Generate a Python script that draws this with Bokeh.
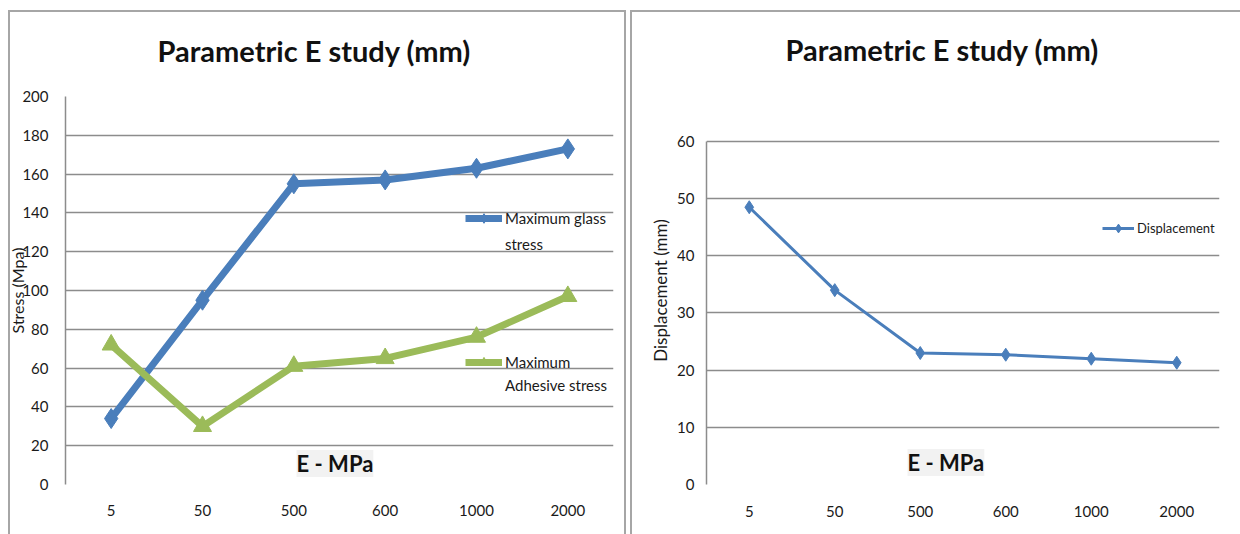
from bokeh.plotting import figure
from bokeh.layouts import row
from bokeh.models import (Label, Legend, LegendItem, Range1d, FactorRange,
                          FixedTicker, ColumnDataSource)
from bokeh.embed import file_html
from bokeh.resources import INLINE

# ---------------- data ----------------
categories = ["5", "50", "500", "600", "1000", "2000"]
glass_stress = [34, 95, 155, 157, 163, 173]
adhesive_stress = [72, 30, 61, 65, 76, 97]
displacement = [48.5, 34, 23, 22.7, 22, 21.3]

title_text = "Parametric E study (mm)"
x_title = "E - MPa"

FONT = "Lato"
GRID = "#8c8c8c"
BLUE = "#4a7ebb"
GREEN = "#9bbb59"
PANEL = "#a6a6a6"


def style(p, ymax, step, ystand, xstand, ylabel, ysize, ylstand, toff, tstand):
    ticks = list(range(0, ymax + 1, step))
    p.yaxis.ticker = FixedTicker(ticks=ticks)
    p.yaxis.bounds = (0, ymax)
    p.xgrid.grid_line_color = None
    p.ygrid.grid_line_color = GRID
    p.ygrid.grid_line_width = 1.5
    p.ygrid.ticker = FixedTicker(ticks=ticks)
    p.outline_line_color = None
    for ax in (p.xaxis, p.yaxis):
        ax.major_tick_line_color = None
        ax.minor_tick_line_color = None
        ax.major_tick_out = 0
        ax.major_tick_in = 0
        ax.major_label_text_font = FONT
        ax.major_label_text_font_size = "15px"
        ax.major_label_text_color = "#1a1a1a"
        ax.axis_label_text_font = FONT
        ax.axis_label_text_font_style = "normal"
        ax.axis_label_text_color = "#1a1a1a"
    p.xaxis.axis_line_color = None
    p.yaxis.axis_line_color = GRID
    p.yaxis.axis_line_width = 1.5
    p.xaxis.major_label_standoff = xstand
    p.yaxis.major_label_standoff = ystand
    p.yaxis.axis_label = ylabel
    p.yaxis.axis_label_text_font_size = ysize
    p.yaxis.axis_label_standoff = ylstand
    p.background_fill_color = "white"
    p.border_fill_alpha = 0
    p.title.text = title_text
    p.title.text_font = FONT
    p.title.text_font_size = "29px"
    p.title.text_font_style = "bold"
    p.title.text_color = "#111111"
    p.title.align = "left"
    p.title.vertical_align = "middle"
    p.title.offset = toff
    p.title.standoff = tstand


def make_legend(items, loc, sp, gw, gh, fsize):
    return Legend(items=items, location=loc, padding=0, margin=0, spacing=sp,
                  glyph_width=gw, glyph_height=gh, label_standoff=3, label_height=18,
                  label_text_font=FONT, label_text_font_size=fsize,
                  label_text_color="#1a1a1a",
                  border_line_color=None, background_fill_alpha=0)


src = ColumnDataSource(dict(cat=categories, glass=glass_stress, adh=adhesive_stress,
                            disp=displacement))

# ---------------- left panel ----------------
p1 = figure(width=626, height=534, x_range=FactorRange(factors=categories),
            y_range=Range1d(0, 200),
            output_backend="svg", toolbar_location=None,
            min_border_left=65, min_border_right=13, min_border_top=96, min_border_bottom=50,
            styles={"box-shadow": f"inset 8px 10px 0 0 white, inset 10px 12px 0 0 {PANEL}, "
                                  f"inset -2px 0 0 0 {PANEL}"})
style(p1, 200, 20, 17, 20, "Stress (Mpa)", "16px", -8, 92, 55)

g_line = p1.line("cat", "glass", source=src, line_color=BLUE, line_width=7)
g_pts = p1.scatter("cat", "glass", source=src, marker="diamond", size=20,
                   fill_color=BLUE, line_color=BLUE)
a_line = p1.line("cat", "adh", source=src, line_color=GREEN, line_width=7)
a_pts = p1.scatter("cat", "adh", source=src, marker="triangle", size=18,
                   fill_color=GREEN, line_color=GREEN)
blank = p1.line("cat", "glass", source=src, line_alpha=0)

p1.add_layout(make_legend([LegendItem(label="Maximum glass", renderers=[g_line, g_pts]),
                           LegendItem(label="stress", renderers=[blank])],
                          (400, 228), 2, 37, 24, "15px"), "center")
p1.add_layout(make_legend([LegendItem(label="Maximum", renderers=[a_line, a_pts]),
                           LegendItem(label="Adhesive stress", renderers=[blank])],
                          (400, 88), 1, 37, 22, "15px"), "center")

p1.add_layout(Label(x=2.95, y=10.8, text=x_title, text_font=FONT, text_font_size="22px",
                    text_font_style="bold", text_align="center", text_baseline="middle",
                    background_fill_color="#f2f2f2", text_color="#111111"))

# ---------------- right panel ----------------
p2 = figure(width=614, height=534, x_range=FactorRange(factors=categories),
            y_range=Range1d(0, 67.87),
            output_backend="svg", toolbar_location=None,
            min_border_left=80, min_border_right=21, min_border_top=96, min_border_bottom=50,
            styles={"box-shadow": f"inset 4px 10px 0 0 white, inset 6px 12px 0 0 {PANEL}"})
style(p2, 60, 10, 12, 21, "Displacement (mm)", "17px", 3, 79, 57)

d_line = p2.line("cat", "disp", source=src, line_color=BLUE, line_width=3)
d_pts = p2.scatter("cat", "disp", source=src, marker="diamond", size=13,
                   fill_color=BLUE, line_color=BLUE)
p2.add_layout(make_legend([LegendItem(label="Displacement", renderers=[d_line, d_pts])],
                          (396, 245), 0, 32, 22, "13px"), "center")

p2.add_layout(Label(x=2.80, y=3.85, text=x_title, text_font=FONT, text_font_size="22px",
                    text_font_style="bold", text_align="center", text_baseline="middle",
                    background_fill_color="#f2f2f2", text_color="#111111"))

layout = row(p1, p2)
open("out.html", "w").write(file_html(layout, INLINE))
